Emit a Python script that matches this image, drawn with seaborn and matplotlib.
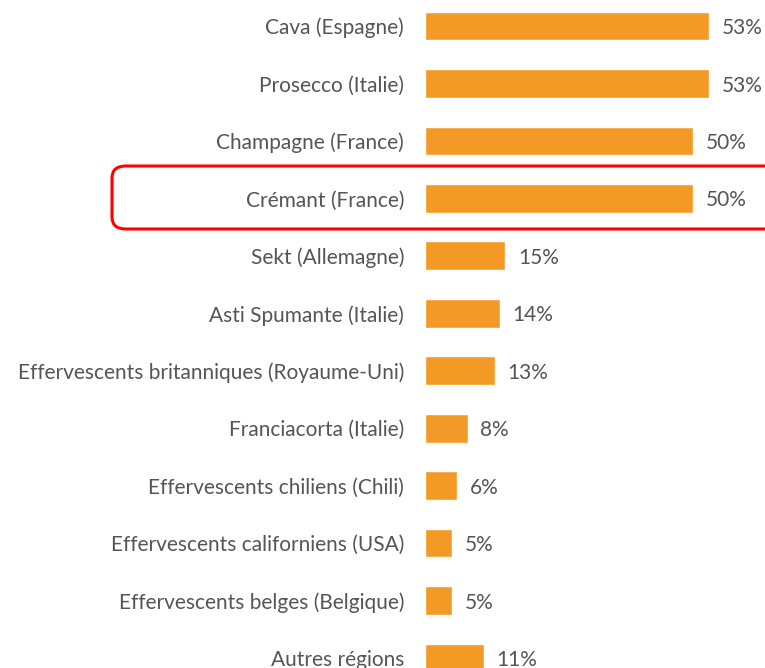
import matplotlib
matplotlib.use("Agg")
import matplotlib.pyplot as plt
from matplotlib.patches import FancyBboxPatch
import seaborn as sns
import pandas as pd

regions = [
    "Cava (Espagne)",
    "Prosecco (Italie)",
    "Champagne (France)",
    "Crémant (France)",
    "Sekt (Allemagne)",
    "Asti Spumante (Italie)",
    "Effervescents britanniques (Royaume-Uni)",
    "Franciacorta (Italie)",
    "Effervescents chiliens (Chili)",
    "Effervescents californiens (USA)",
    "Effervescents belges (Belgique)",
    "Autres régions",
]
shares = [53, 53, 50, 50, 15, 14, 13, 8, 6, 5, 5, 11]
highlight = "Crémant (France)"

df = pd.DataFrame({"region": regions, "share": shares})

sns.set_theme(style="white")
plt.rcParams["font.family"] = ["Lato", "DejaVu Sans"]

W, H = 765, 668
fig = plt.figure(figsize=(W / 100, H / 100), dpi=100)
ax = fig.add_axes([425 / W, 0, 1 - 425 / W, 1])

bar_color = "#F39A26"
text_color = "#555555"

sns.barplot(data=df, y="region", x="share", orient="h", color=bar_color,
            width=0.5, saturation=1, ax=ax)

ax.set_xlim(0, (W - 425) / 5.36)
ax.set_ylim(11 + 10 / 57.45, -26 / 57.45)
ax.set_xlabel("")
ax.set_ylabel("")
ax.set_xticks([])
for s in ax.spines.values():
    s.set_visible(False)
ax.tick_params(axis="y", length=0, pad=15, labelsize=15, labelcolor=text_color)

for i, v in enumerate(shares):
    ax.annotate(f"{v}%", xy=(v, i), xytext=(9, -1.5), textcoords="offset points",
                va="center", ha="left", fontsize=15, color=text_color)

# Rounded frame around the highlighted row
hi = regions.index(highlight)
y_top = 166 / H
y_bot = 229 / H
frame = FancyBboxPatch((112 / W, 1 - y_bot), (W + 20 - 112) / W, (y_bot - y_top),
                       boxstyle="round,pad=0,rounding_size=0.018",
                       transform=fig.transFigure, fill=False,
                       edgecolor="#FF0000", linewidth=2.2, clip_on=False)
fig.patches.append(frame)

fig.savefig("out.png", dpi=100)
